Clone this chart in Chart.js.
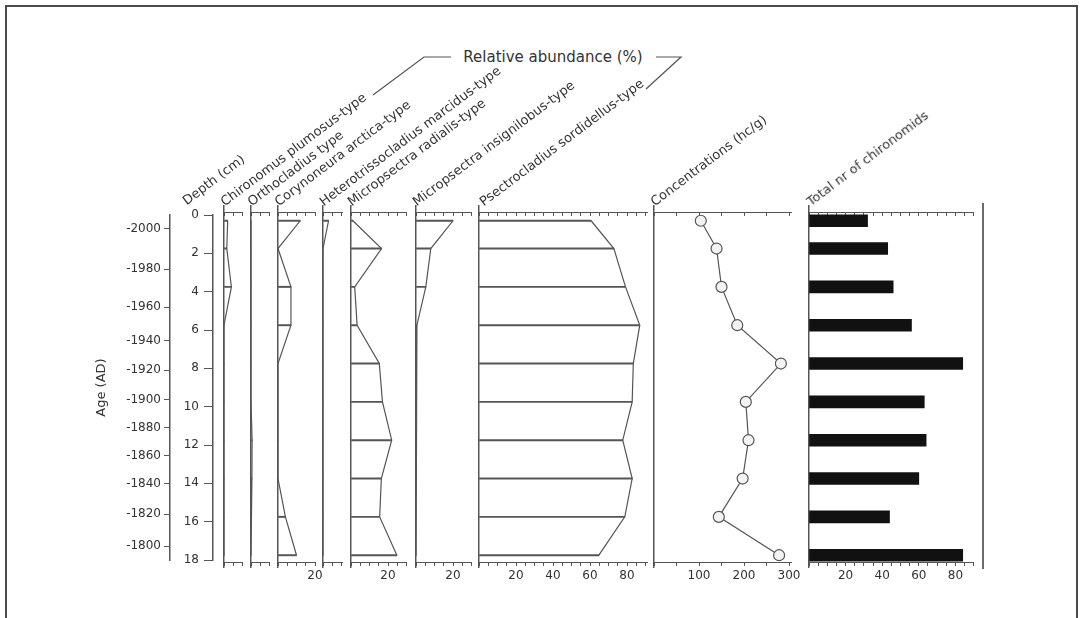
<!DOCTYPE html>
<html>
<head>
<meta charset="utf-8">
<script src="https://cdn.jsdelivr.net/npm/chart.js@4.4.1/dist/chart.umd.min.js"></script>
<style>
  html, body { margin: 0; padding: 0; background: #fff; }
  #wrap { position: relative; width: 1080px; height: 618px; overflow: hidden; background: #fff;
          font-family: 'DejaVu Sans', 'Liberation Sans', sans-serif; color: #333; }
  #wrap canvas { position: absolute; left: 0; top: 0; }
  .frame { position: absolute; left: 5px; top: 5px; width: 1069px; height: 700px; border: 2px solid #4a4a4a; }
  .rline { position: absolute; left: 982px; top: 203px; width: 2px; height: 366px; background: #6a6a6a; }
  .rot { position: absolute; white-space: nowrap; font-size: 13px; line-height: 13px;
         transform-origin: 0 100%; transform: rotate(-37deg); }
  .group { position: absolute; white-space: nowrap; font-size: 15px; line-height: 15px; transform: translate(-50%, -50%); }
  svg { position: absolute; left: 0; top: 0; }
</style>
</head>
<body>
<div id="wrap">
  <div class="frame"></div>
  <div class="rline"></div>
  <svg width="1080" height="618">
    <polyline points="373,95 424,57 451,57" fill="none" stroke="#555" stroke-width="1.2"/>
    <polyline points="656,57 681,57 646,89" fill="none" stroke="#555" stroke-width="1.2"/>
  </svg>
  <div class="group" style="left:553px; top:57px;">Relative abundance (%)</div>
</div>
<script>
// ---- data: one row per sediment slice ----
const sampleDepths  = [0.3, 1.75, 3.75, 5.75, 7.75, 9.75, 11.75, 13.75, 15.75, 17.75];   // cm
const chironomus    = [2, 1.5, 4, 0, 0, 0, 0, 0, 0, 0];                                 // %
const orthocladius  = [0, 0, 0, 0, 0, 0, 0.6, 0.5, 0, 0];
const corynoneura   = [12, 0, 7, 7, 0, 0, 0, 0, 4, 10];
const heterotriss   = [3, 0, 0, 0, 0, 0, 0, 0, 0, 0];
const micRadialis   = [1, 16.5, 2, 3.3, 15.3, 17, 22, 16.4, 15.5, 24.8];
const micInsignil   = [20, 8, 5.3, 0.5, 0.3, 0, 0, 0, 0, 0];
const psectro       = [60.6, 72.9, 79.2, 86.9, 83.4, 82.8, 77.7, 82.8, 78.8, 64.8];
const concentration = [104, 139, 150, 185, 282, 204, 210, 197, 144, 278];            // hc/g
const totalCount    = [32, 43, 46, 56, 84, 63, 64, 60, 44, 84];                       // head capsules

const depthTicks    = [0, 2, 4, 6, 8, 10, 12, 14, 16, 18];
const ageTickYears  = [-2000, -1980, -1960, -1940, -1920, -1900, -1880, -1860, -1840, -1820, -1800];
const ageTickDepths = [0.73, 2.82, 4.80, 6.57, 8.09, 9.65, 11.11, 12.57, 14.03, 15.60, 17.27];

const taxonNames = [
  'Chironomus plumosus-type', 'Orthocladius type', 'Corynoneura arctica-type',
  'Heterotrissocladius marcidus-type', 'Micropsectra radialis-type',
  'Micropsectra insignilobus-type', 'Psectrocladius sordidellus-type'
];

// ---- layout ----
const W = 1080, H = 618;
const DEPTH_TOP_PX = 215, DEPTH_BOTTOM_PX = 560;       // pixel rows of 0 cm and 18 cm
const PANEL_TOP = 206, PANEL_BOTTOM = 567;             // extent of each panel's zero line
const PX_PER_CM = (DEPTH_BOTTOM_PX - DEPTH_TOP_PX) / 18;
const PANEL_YMIN = -(DEPTH_TOP_PX - PANEL_TOP) / PX_PER_CM;
const PANEL_YMAX = 18 + (PANEL_BOTTOM - DEPTH_BOTTOM_PX) / PX_PER_CM;
const TOP_AXIS_DEPTH = -0.12, BOTTOM_AXIS_DEPTH = 18.14;
const PCT_PX = 1.85;
const AXIS = '#555', LINE = '#555', TEXT = '#333';

Chart.defaults.font.family = "'DejaVu Sans', 'Liberation Sans', sans-serif";
Chart.defaults.font.size = 12;
Chart.defaults.color = TEXT;
Chart.defaults.animation = false;
Chart.defaults.responsive = false;
Chart.defaults.events = [];
Chart.defaults.plugins.legend.display = false;
Chart.defaults.plugins.tooltip.enabled = false;

const wrap = document.getElementById('wrap');
function addCanvas() {
  const c = document.createElement('canvas');
  c.width = W; c.height = H;
  wrap.appendChild(c);
  return c;
}
function addLabel(text, x, y) {
  const d = document.createElement('div');
  d.className = 'rot';
  d.textContent = text;
  d.style.left = x + 'px';
  d.style.top = (y - 13) + 'px';
  wrap.appendChild(d);
}

// ---- age axis (non-linear age-depth model ticks) ----
new Chart(addCanvas(), {
  type: 'scatter',
  data: { datasets: [] },
  options: {
    layout: { padding: { left: 90, right: 0, top: DEPTH_TOP_PX, bottom: H - DEPTH_BOTTOM_PX } },
    scales: {
      x: { display: false, min: 0, max: 1 },
      y: {
        type: 'linear', min: 0, max: 18, reverse: true, position: 'left',
        afterFit: s => { s.width = 80; },
        afterBuildTicks: s => { s.ticks = ageTickDepths.map(v => ({ value: v })); },
        ticks: { autoSkip: false, padding: 3, callback: (v, i) => String(ageTickYears[i]) },
        grid: { drawOnChartArea: false, tickLength: 6, color: AXIS },
        border: { color: AXIS, width: 1.5 },
        title: { display: true, text: 'Age (AD)', font: { size: 13 }, color: TEXT }
      }
    }
  }
});

// ---- depth axis ----
new Chart(addCanvas(), {
  type: 'scatter',
  data: { datasets: [] },
  options: {
    layout: { padding: { left: 170, right: 0, top: DEPTH_TOP_PX, bottom: H - DEPTH_BOTTOM_PX } },
    scales: {
      x: { display: false, min: 0, max: 1 },
      y: {
        type: 'linear', min: 0, max: 18, reverse: true, position: 'left',
        afterFit: s => { s.width = 43; },
        afterBuildTicks: s => { s.ticks = depthTicks.map(v => ({ value: v })); },
        ticks: { autoSkip: false, padding: 5 },
        grid: { drawOnChartArea: false, tickLength: 9, color: AXIS },
        border: { color: AXIS, width: 1.5 }
      }
    }
  }
});
addLabel('Depth (cm)', 188, 207);

// ---- one stratigraphic panel ----
function makePanel(cfg) {
  const right = cfg.left + cfg.max * cfg.pxPerUnit;
  const pts = sampleDepths.map((d, i) => ({ x: cfg.values[i], y: d }));
  const datasets = [];
  if (cfg.kind === 'pct') {
    datasets.push({ type: 'bar', indexAxis: 'y', data: pts, backgroundColor: LINE, barThickness: 1.3, borderWidth: 0 });
    datasets.push({ type: 'scatter', showLine: true, data: pts, borderColor: LINE, borderWidth: 1.2, pointRadius: 0 });
  } else if (cfg.kind === 'curve') {
    datasets.push({ type: 'scatter', showLine: true, data: pts, borderColor: LINE, borderWidth: 1.2,
      pointRadius: 5.5, pointBackgroundColor: '#f3f3f3', pointBorderColor: '#555', pointBorderWidth: 1.2 });
  } else {
    datasets.push({ type: 'bar', indexAxis: 'y', data: pts, backgroundColor: '#111', barThickness: 12, borderWidth: 0 });
  }
  const xCommon = {
    type: 'linear', axis: 'x', min: 0, max: cfg.max, offset: false,
    grid: { drawOnChartArea: false, tickLength: 3, color: AXIS, offset: false },
    border: { color: AXIS, width: 1 }
  };
  new Chart(addCanvas(), {
    type: 'scatter',
    data: { datasets },
    options: {
      layout: { padding: { left: cfg.left, right: W - right, top: PANEL_TOP, bottom: H - PANEL_BOTTOM } },
      scales: {
        y: {
          type: 'linear', min: PANEL_YMIN, max: PANEL_YMAX, reverse: true, position: 'left', offset: false,
          afterFit: s => { s.width = 0; },
          ticks: { display: false }, grid: { display: false, offset: false },
          border: { display: true, color: AXIS, width: 1.5 }
        },
        x: Object.assign({}, xCommon, {
          position: { y: BOTTOM_AXIS_DEPTH },
          ticks: { stepSize: cfg.step, includeBounds: false, autoSkip: false, maxRotation: 0, padding: 3,
                   callback: v => (v > 0 && v % cfg.labelEvery === 0) ? String(v) : '' }
        }),
        xTop: Object.assign({}, xCommon, {
          position: { y: TOP_AXIS_DEPTH },
          ticks: { stepSize: cfg.step, includeBounds: false, autoSkip: false, display: false }
        })
      }
    }
  });
  if (cfg.title) addLabel(cfg.title, cfg.left + cfg.labelDx, 208);
}

const pctPanels = [
  { values: chironomus,   left: 224, max: 10 },
  { values: orthocladius, left: 251, max: 10 },
  { values: corynoneura,  left: 278, max: 20 },
  { values: heterotriss,  left: 323, max: 10.5 },
  { values: micRadialis,  left: 351, max: 30 },
  { values: micInsignil,  left: 416, max: 30 },
  { values: psectro,      left: 479, max: 91 }
];
pctPanels.forEach((p, i) => makePanel(Object.assign({
  kind: 'pct', pxPerUnit: PCT_PX, step: 5, labelEvery: 20, title: taxonNames[i], labelDx: i === 6 ? 6 : 2
}, p)));

makePanel({ kind: 'curve', values: concentration, left: 654, max: 305, pxPerUnit: 0.45,
            step: 50, labelEvery: 100, title: 'Concentrations (hc/g)', labelDx: 2 });
makePanel({ kind: 'bars', values: totalCount, left: 809, max: 90, pxPerUnit: 1.83,
            step: 5, labelEvery: 20, title: 'Total nr of chironomids', labelDx: 3 });
</script>
</body>
</html>
